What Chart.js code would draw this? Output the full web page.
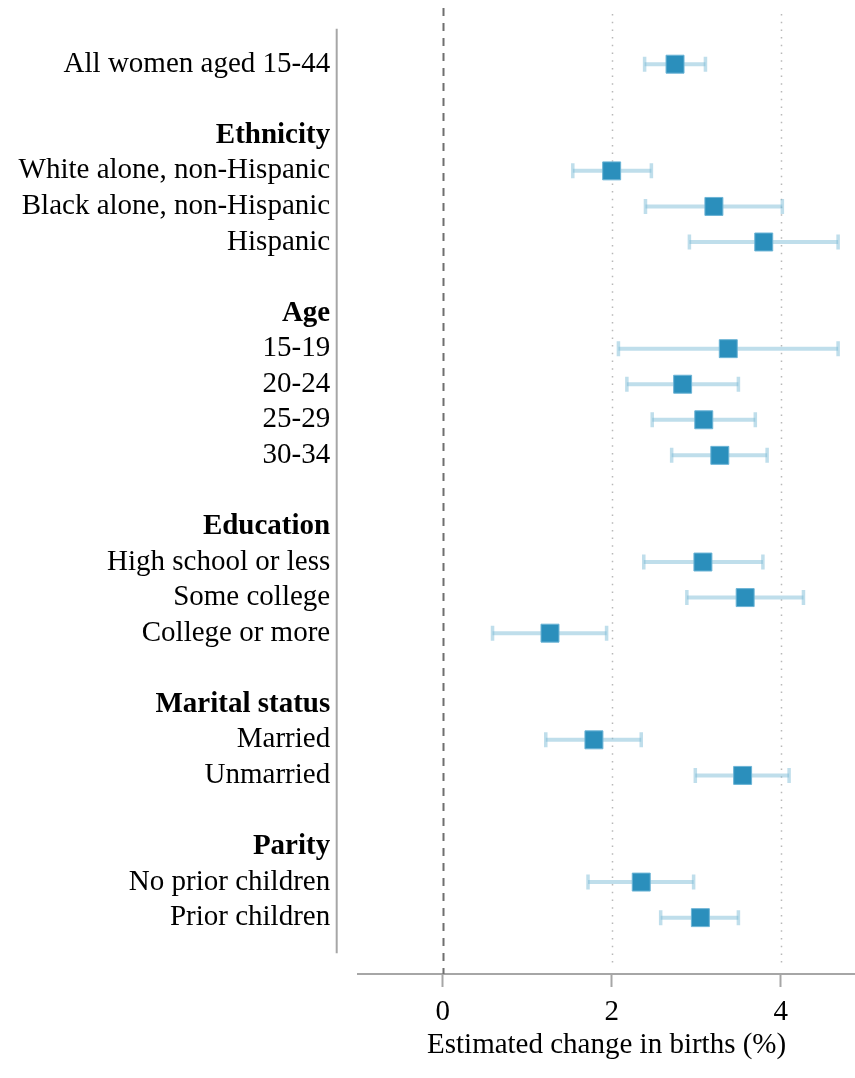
<!DOCTYPE html>
<html>
<head>
<meta charset="utf-8">
<script src="https://cdn.jsdelivr.net/npm/chart.js@4.4.0/dist/chart.umd.min.js"></script>
<style>
  html, body { margin: 0; padding: 0; background: #ffffff; }
  canvas { display: block; }
</style>
</head>
<body>
<canvas id="forest" width="855" height="1078"></canvas>
<script>
// Row labels, top to bottom; empty strings are spacer rows between groups
const rowLabels = [
  'All women aged 15-44', '',
  'Ethnicity', 'White alone, non-Hispanic', 'Black alone, non-Hispanic', 'Hispanic', '',
  'Age', '15-19', '20-24', '25-29', '30-34', '',
  'Education', 'High school or less', 'Some college', 'College or more', '',
  'Marital status', 'Married', 'Unmarried', '',
  'Parity', 'No prior children', 'Prior children'
];
const groupHeaders = ['Ethnicity', 'Age', 'Education', 'Marital status', 'Parity'];

// Point estimates and 95% interval bounds (% change in births), aligned with rowLabels
const estimate = [2.75, null, null, 2.00, 3.21, 3.80, null, null, 3.38, 2.84, 3.09, 3.28, null, null, 3.08, 3.58, 1.27, null, null, 1.79, 3.55, null, null, 2.35, 3.05];
const lowerCI  = [2.39, null, null, 1.54, 2.40, 2.92, null, null, 2.08, 2.18, 2.48, 2.71, null, null, 2.38, 2.89, 0.59, null, null, 1.22, 2.99, null, null, 1.72, 2.58];
const upperCI  = [3.11, null, null, 2.47, 4.02, 4.68, null, null, 4.68, 3.50, 3.70, 3.84, null, null, 3.79, 4.27, 1.94, null, null, 2.35, 4.10, null, null, 2.97, 3.50];

const xTickValues = [0, 2, 4];
const xTitle = 'Estimated change in births (%)';

const FONT = "'Liberation Serif', 'Times New Roman', serif";
const AXIS_GREY = '#a6a6a6';
const CI_COLOR = 'rgba(128, 190, 216, 0.5)';
const MARK_COLOR = '#2b8fbc';

const rows = rowLabels.map((_, i) => i).filter(i => estimate[i] !== null);

// Interval segments: two points per row, then a gap so rows are not joined
const ciSegments = [];
rows.forEach(i => {
  ciSegments.push({ x: lowerCI[i], y: i });
  ciSegments.push({ x: upperCI[i], y: i });
  ciSegments.push({ x: upperCI[i], y: NaN });
});
const ciCaps = [];
rows.forEach(i => {
  ciCaps.push({ x: lowerCI[i], y: i });
  ciCaps.push({ x: upperCI[i], y: i });
});
const points = rows.map(i => ({ x: estimate[i], y: i }));

// Reference line at zero (dashed), light dotted lines at the other ticks,
// and a detached vertical axis line spanning the labelled rows
const referenceLines = {
  id: 'referenceLines',
  beforeDatasetsDraw(chart) {
    const { ctx, chartArea, scales: { x, y } } = chart;
    ctx.save();
    xTickValues.forEach(v => {
      const px = Math.round(x.getPixelForValue(v)) + 0.5;
      ctx.beginPath();
      if (v === 0) {
        ctx.strokeStyle = '#6f6f6f';
        ctx.lineWidth = 2;
        ctx.setLineDash([8, 7]);
        ctx.moveTo(px, chartArea.top);
        ctx.lineTo(px, chartArea.bottom);
      } else {
        ctx.strokeStyle = '#b8b8b8';
        ctx.lineWidth = 1.5;
        ctx.setLineDash([1.5, 6.2]);
        ctx.moveTo(px, chartArea.top + 6);
        ctx.lineTo(px, chartArea.bottom - 6);
      }
      ctx.stroke();
    });
    ctx.setLineDash([]);
    ctx.strokeStyle = AXIS_GREY;
    ctx.lineWidth = 2;
    const ax = chartArea.left - 21.5;
    ctx.beginPath();
    ctx.moveTo(ax, y.getPixelForValue(-1));
    ctx.lineTo(ax, y.getPixelForValue(rowLabels.length));
    ctx.stroke();
    ctx.restore();
  }
};

Chart.defaults.font.family = FONT;
Chart.defaults.color = '#000000';

new Chart(document.getElementById('forest'), {
  type: 'scatter',
  data: {
    datasets: [
      {
        type: 'line',
        data: ciSegments,
        borderColor: CI_COLOR,
        borderWidth: 4,
        pointRadius: 0,
        spanGaps: false,
        fill: false,
        order: 3
      },
      {
        data: ciCaps,
        pointStyle: 'line',
        rotation: 90,
        radius: 7.5,
        borderColor: CI_COLOR,
        borderWidth: 3.5,
        order: 2
      },
      {
        data: points,
        pointStyle: 'rect',
        radius: 12.7,
        backgroundColor: MARK_COLOR,
        borderColor: '#6cb4d6',
        borderWidth: 1,
        order: 1
      }
    ]
  },
  options: {
    responsive: false,
    animation: false,
    devicePixelRatio: 1,
    layout: { autoPadding: false, padding: { top: 8, left: 0, right: 0, bottom: 0 } },
    plugins: { legend: { display: false }, tooltip: { enabled: false } },
    scales: {
      x: {
        type: 'linear',
        position: 'bottom',
        min: -1,
        max: 4.88,
        afterBuildTicks: s => { s.ticks = xTickValues.map(v => ({ value: v })); },
        afterFit: s => { s.height = 104; s.paddingLeft = 0; s.paddingRight = 0; },
        ticks: { font: { size: 29 }, color: '#000', padding: 8 },
        grid: { drawOnChartArea: false, drawTicks: true, tickLength: 13, tickColor: AXIS_GREY, tickWidth: 2 },
        border: { display: true, color: AXIS_GREY, width: 2 },
        title: { display: true, text: xTitle, font: { size: 29 }, color: '#000', padding: { top: 0, bottom: 15 } }
      },
      y: {
        type: 'linear',
        reverse: true,
        min: -1.58,
        max: 25.585,
        afterBuildTicks: s => {
          s.ticks = rowLabels.map((l, i) => ({ value: i, label: l })).filter(t => t.label !== '');
        },
        afterFit: s => { s.width = 358.2; s.paddingTop = 0; s.paddingBottom = 0; },
        ticks: {
          autoSkip: false,
          padding: 28,
          color: '#000',
          callback: v => rowLabels[v],
          font: ctx => ({
            size: 29,
            weight: ctx.tick && groupHeaders.includes(rowLabels[ctx.tick.value]) ? 'bold' : 'normal'
          })
        },
        grid: { display: false, drawTicks: false },
        border: { display: false }
      }
    }
  },
  plugins: [referenceLines]
});
</script>
</body>
</html>
